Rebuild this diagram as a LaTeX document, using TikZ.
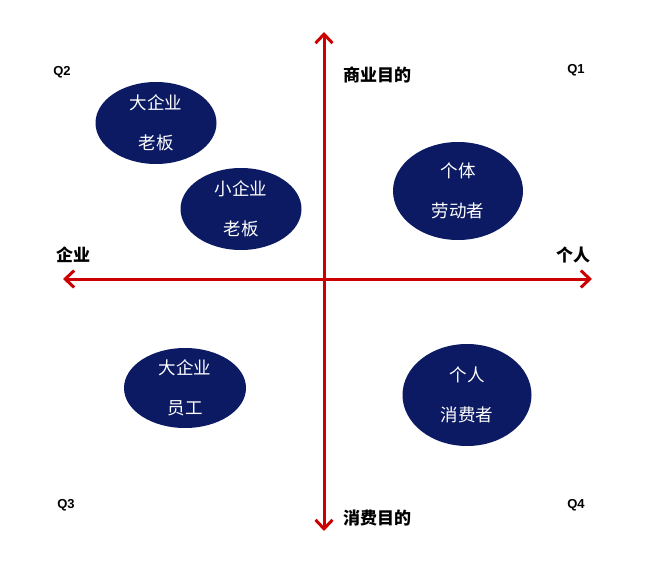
\documentclass[tikz,border=0pt]{standalone}
\usepackage{fontspec}
\newfontfamily\cjk{Noto Sans CJK SC}
\newfontfamily\latb{Liberation Sans}
\usetikzlibrary{shapes.geometric,arrows.meta}
\definecolor{axisred}{HTML}{CC0000}
\definecolor{navy}{HTML}{0B1A62}
\begin{document}
\begin{tikzpicture}[x=1pt,y=-1pt,
  blob/.style={ellipse, fill=navy, draw=none, text=white, inner sep=0pt, align=center,
    font=\cjk\fontsize{17.5}{40}\selectfont},
  axislabel/.style={font=\cjk\bfseries\fontsize{17}{20}\selectfont, text=black, inner sep=0pt},
  qlabel/.style={font=\latb\bfseries\fontsize{13}{15}\selectfont, text=black, inner sep=0pt},
  axis/.style={draw=axisred, line width=3pt, {Straight Barb[length=9pt,width=17pt]}-{Straight Barb[length=9pt,width=17pt]}}
]
\useasboundingbox (0,0) rectangle (666,577);
\fill[white] (0,0) rectangle (666,577);

\coordinate (L) at (63,279);
\coordinate (R) at (592,279);
\coordinate (T) at (324,32);
\coordinate (B) at (324,531);
\draw[axis] (L) -- (R);
\draw[axis] (T) -- (B);

\node[blob, minimum width=121pt, minimum height=82pt] (e1) at (156,123) {大企业\\老板};
\node[blob, minimum width=121pt, minimum height=82pt] (e2) at (241,209) {小企业\\老板};
\node[blob, minimum width=130pt, minimum height=98pt] (e3) at (458,191) {个体\\劳动者};
\node[blob, minimum width=122pt, minimum height=80pt] (e4) at (185,388) {大企业\\员工};
\node[blob, minimum width=129pt, minimum height=102pt] (e5) at (467,395) {个人\\消费者};

\node[axislabel, anchor=west] (top) at (343,75) {商业目的};
\node[axislabel, anchor=west] (bot) at (343,518) {消费目的};
\node[axislabel, anchor=west] (left) at (56,255) {企业};
\node[axislabel, anchor=west] (right) at (556,255) {个人};

\node[qlabel] (q1) at (576,70) {Q1};
\node[qlabel] (q2) at (62,72) {Q2};
\node[qlabel] (q3) at (66,505) {Q3};
\node[qlabel] (q4) at (576,505) {Q4};
\end{tikzpicture}
\end{document}
